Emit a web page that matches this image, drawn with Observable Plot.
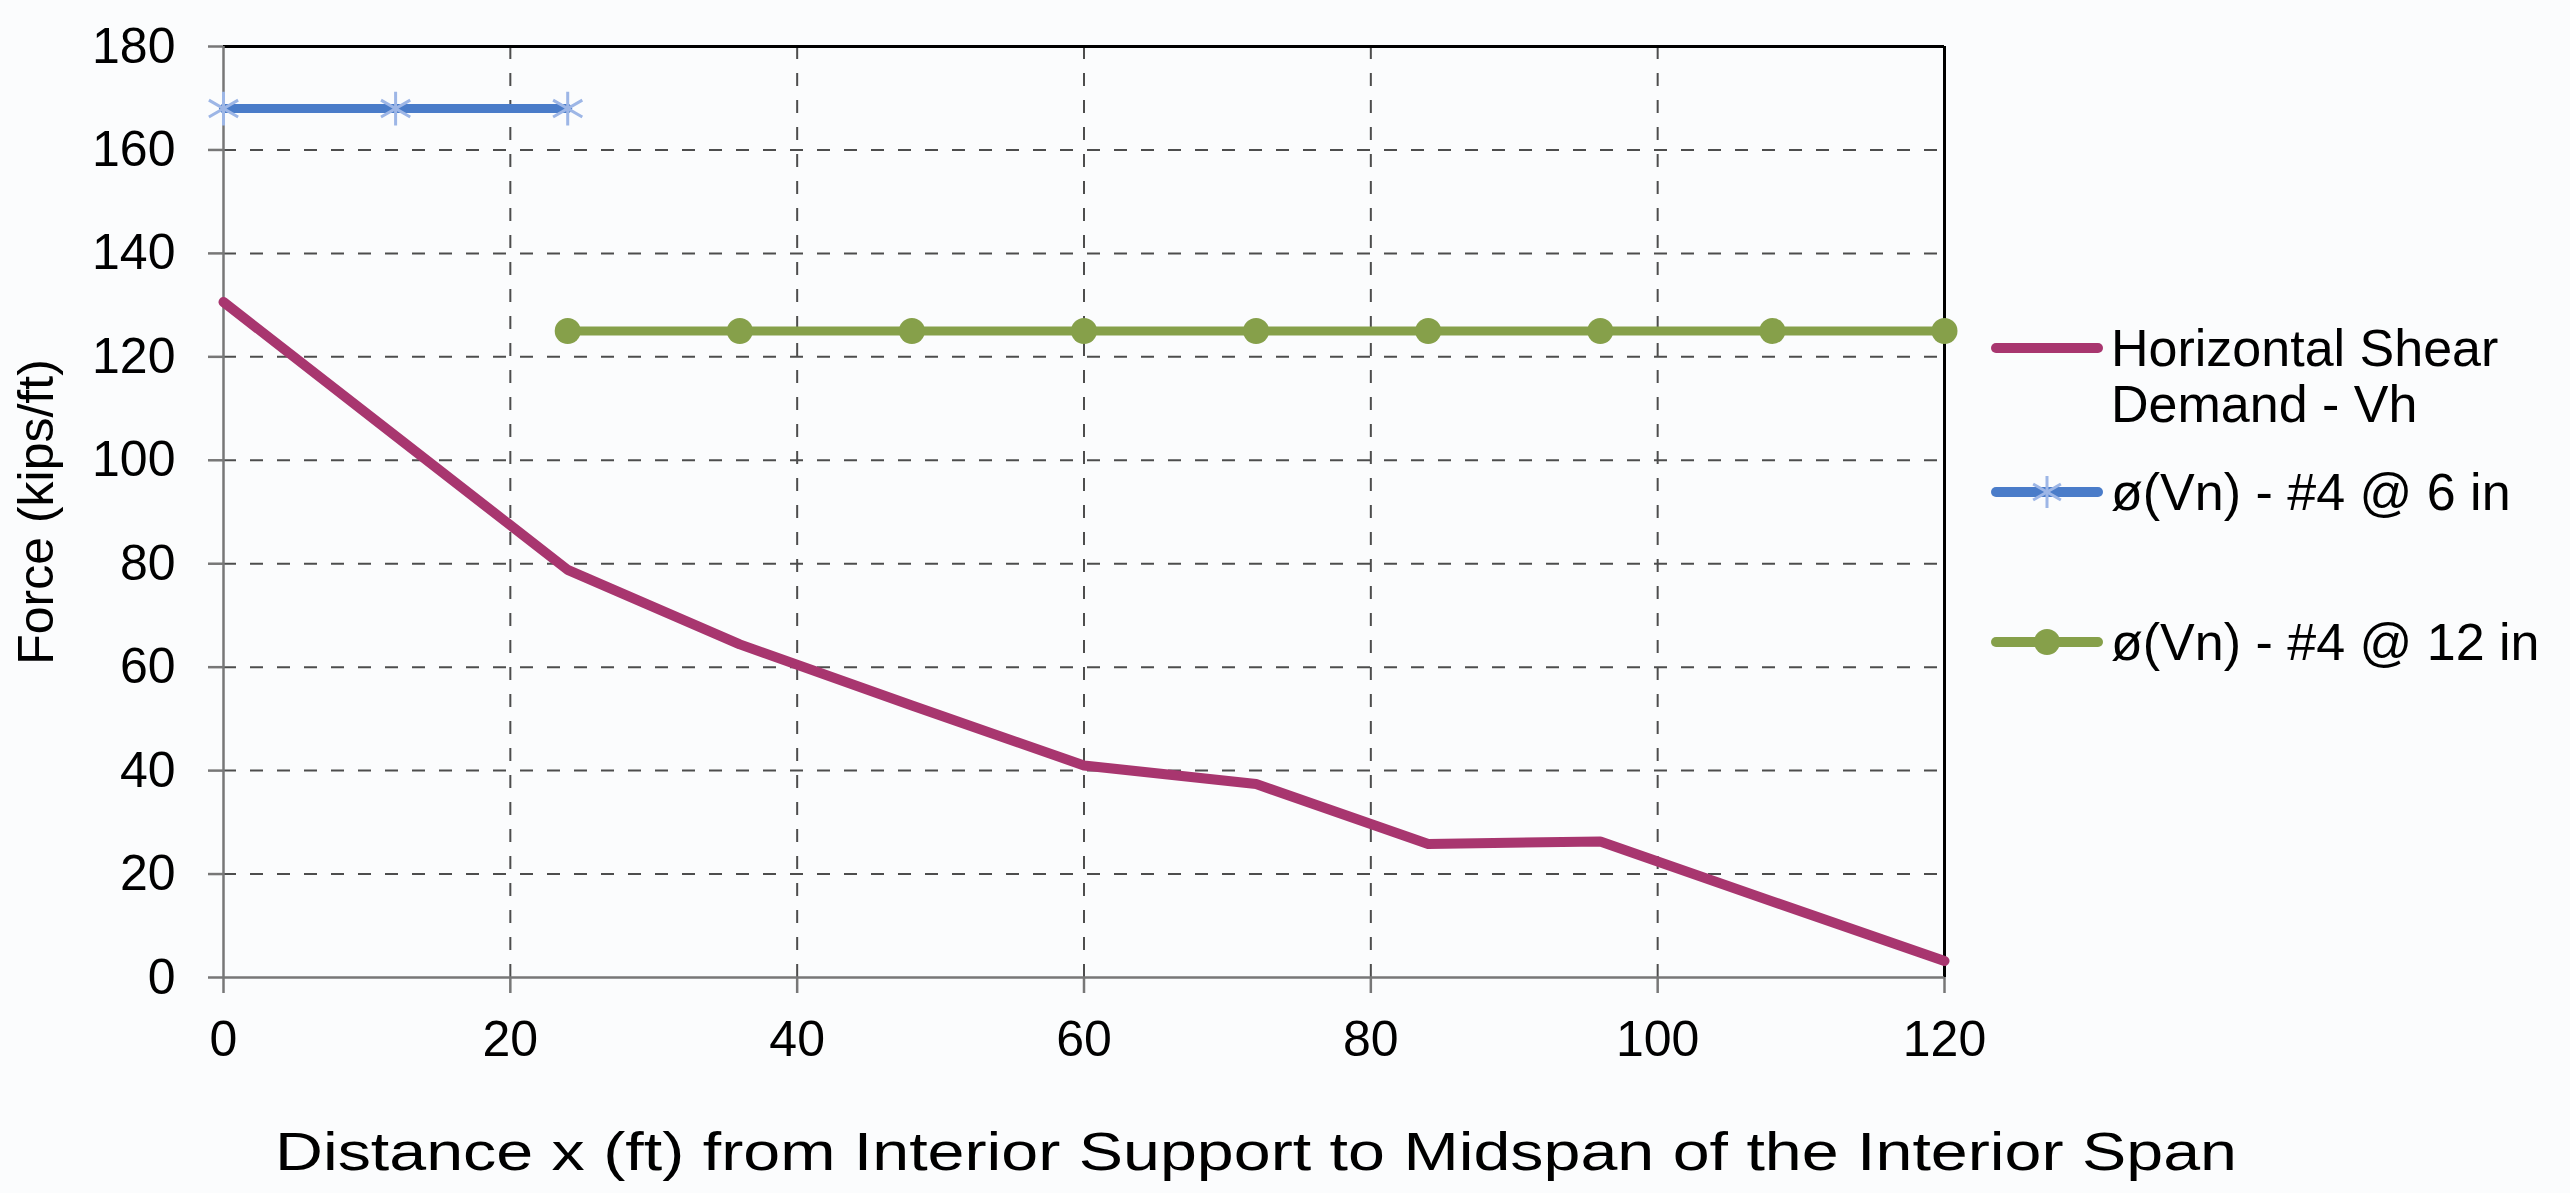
<!DOCTYPE html>
<html>
<head>
<meta charset="utf-8">
<script src="https://cdn.jsdelivr.net/npm/d3@7"></script>
<script src="https://cdn.jsdelivr.net/npm/@observablehq/plot@0.6"></script>
<style>
  html, body { margin: 0; padding: 0; background: #fbfcfd; }
  #wrap { position: relative; width: 2570px; height: 1193px; overflow: hidden;
          font-family: "Liberation Sans", Arial, sans-serif; color: #000; }
  #legend { position: absolute; left: 1991px; top: 0; }
  .item { position: absolute; left: 0; display: flex; align-items: flex-start; }
  .item svg { flex: none; }
  .item .lab { font-size: 52px; line-height: 56px; width: 450px; margin-left: 8px; }
</style>
</head>
<body>
<div id="wrap"></div>
<script>
// ---- data ----
const distance = [0, 12, 24, 36, 48, 60, 72, 84, 96, 108, 120];
const demandVh = [130.6, 104.7, 78.8, 64.4, 52.6, 41.0, 37.4, 25.8, 26.3, 14.7, 3.2];
const distSix = [0, 12, 24];
const vnSix = [168, 168, 168];
const distTwelve = [24, 36, 48, 60, 72, 84, 96, 108, 120];
const vnTwelve = [125, 125, 125, 125, 125, 125, 125, 125, 125];
const xTicks = [0, 20, 40, 60, 80, 100, 120];
const yTicks = [0, 20, 40, 60, 80, 100, 120, 140, 160, 180];
const xGrid = [20, 40, 60, 80, 100];
const yGrid = [20, 40, 60, 80, 100, 120, 140, 160];
const seriesNames = ["Horizontal Shear Demand - Vh", "ø(Vn) - #4 @ 6 in", "ø(Vn) - #4 @ 12 in"];
const seriesColors = ["#A8366F", "#4A7CC9", "#86A04A"];
const xLabel = "Distance x (ft) from Interior Support to Midspan of the Interior Span";
const yLabel = "Force (kips/ft)";

const demand = distance.map((x, i) => ({x, y: demandVh[i]}));
const six = distSix.map((x, i) => ({x, y: vnSix[i]}));
const twelve = distTwelve.map((x, i) => ({x, y: vnTwelve[i]}));

const gridStyle = {stroke: "#4d4d4d", strokeWidth: 2, strokeDasharray: "13,14", strokeOpacity: 1};

const chart = Plot.plot({
  width: 2570,
  height: 1193,
  marginLeft: 223,
  marginRight: 626,
  marginTop: 46,
  marginBottom: 216,
  x: {domain: [0, 120]},
  y: {domain: [0, 180]},
  style: {fontFamily: "'Liberation Sans', Arial, sans-serif", fontSize: "50px", background: "transparent", color: "#000", overflow: "visible"},
  marks: [
    Plot.ruleX(xGrid, gridStyle),
    Plot.ruleY(yGrid, gridStyle),
    Plot.ruleY([180], {stroke: "#000", strokeWidth: 3}),
    Plot.ruleX([120], {stroke: "#000", strokeWidth: 3}),
    Plot.ruleX([0], {stroke: "#777", strokeWidth: 2.5}),
    Plot.ruleY([0], {stroke: "#777", strokeWidth: 2.5}),
    Plot.axisX({ticks: xTicks, tickSize: 16, tickPadding: 27, stroke: "#777", strokeWidth: 2.5, label: null, fontSize: 50, tickFormat: d3.format("d")}),
    Plot.axisY({ticks: yTicks, tickSize: 15, tickPadding: 33, stroke: "#777", strokeWidth: 2.5, fontSize: 50, tickFormat: d3.format("d"),
                label: yLabel, labelAnchor: "center", labelArrow: "none", labelOffset: 206}),
    Plot.text([xLabel], {frameAnchor: "bottom", dy: 192, dx: 172, text: d => d, fontSize: 53, fill: "#000", className: "xlab"}),
    Plot.line(demand, {x: "x", y: "y", stroke: seriesColors[0], strokeWidth: 10, strokeLinejoin: "round", strokeLinecap: "round"}),
    Plot.line(six, {x: "x", y: "y", stroke: seriesColors[1], strokeWidth: 9}),
    Plot.dot(six, {x: "x", y: "y", symbol: "asterisk", r: 16, stroke: "#9DB6E6", strokeWidth: 3}),
    Plot.line(twelve, {x: "x", y: "y", stroke: seriesColors[2], strokeWidth: 9}),
    Plot.dot(twelve, {x: "x", y: "y", r: 13, fill: seriesColors[2], stroke: "none"})
  ]
});

const wrap = document.getElementById("wrap");
wrap.appendChild(chart);
// the reference's x-axis title is drawn wide: stretch it to the same run
d3.select(chart).selectAll("g.xlab text").attr("textLength", 1962).attr("lengthAdjust", "spacingAndGlyphs");

// ---- legend (right side) ----
const legend = document.createElement("div");
legend.id = "legend";
wrap.appendChild(legend);
const tops = [320, 464, 614];     // top of each legend row
const symbols = ["none", "asterisk", "circle"];
seriesNames.forEach((name, i) => {
  const item = document.createElement("div");
  item.className = "item";
  item.style.top = tops[i] + "px";
  const svg = d3.create("svg").attr("width", 112).attr("height", 56);
  svg.append("line").attr("x1", 5).attr("x2", 107).attr("y1", 28).attr("y2", 28)
    .attr("stroke", seriesColors[i]).attr("stroke-width", 10).attr("stroke-linecap", "round");
  if (symbols[i] === "asterisk") {
    const g = svg.append("g").attr("transform", "translate(56,28)")
      .attr("stroke", "#9DB6E6").attr("stroke-width", 3);
    [0, 60, 120].forEach(a => {
      const r = 16, t = (a + 90) * Math.PI / 180;
      g.append("line").attr("x1", r * Math.cos(t)).attr("y1", r * Math.sin(t))
        .attr("x2", -r * Math.cos(t)).attr("y2", -r * Math.sin(t));
    });
  } else if (symbols[i] === "circle") {
    svg.append("circle").attr("cx", 56).attr("cy", 28).attr("r", 13).attr("fill", seriesColors[i]);
  }
  item.appendChild(svg.node());
  const lab = document.createElement("div");
  lab.className = "lab";
  lab.textContent = name;
  item.appendChild(lab);
  legend.appendChild(item);
});
</script>
</body>
</html>
